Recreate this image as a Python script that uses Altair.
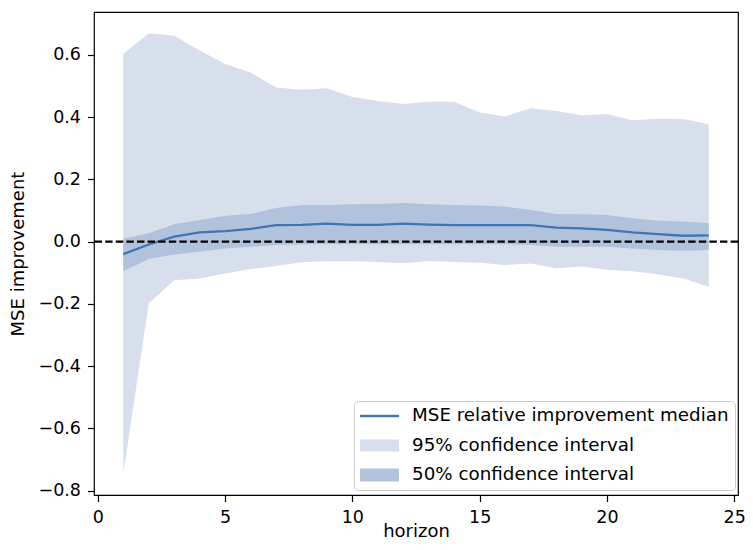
import altair as alt
import pandas as pd

horizon = list(range(1, 25))
median = [-0.040, -0.009, 0.016, 0.030, 0.034, 0.041, 0.053, 0.054, 0.058, 0.054, 0.054, 0.058,
          0.055, 0.053, 0.053, 0.053, 0.053, 0.045, 0.043, 0.038, 0.030, 0.024, 0.019, 0.020]
hi95 = [0.603, 0.670, 0.662, 0.614, 0.571, 0.544, 0.495, 0.488, 0.493, 0.465, 0.452, 0.442,
        0.450, 0.450, 0.415, 0.402, 0.429, 0.420, 0.406, 0.410, 0.390, 0.395, 0.394, 0.377]
lo95 = [-0.746, -0.199, -0.124, -0.118, -0.102, -0.088, -0.078, -0.066, -0.063, -0.063, -0.065, -0.069,
        -0.062, -0.065, -0.068, -0.075, -0.070, -0.085, -0.080, -0.090, -0.095, -0.105, -0.118, -0.145]
hi50 = [0.009, 0.027, 0.056, 0.070, 0.083, 0.089, 0.108, 0.118, 0.118, 0.120, 0.121, 0.124,
        0.120, 0.118, 0.116, 0.113, 0.102, 0.089, 0.088, 0.086, 0.075, 0.067, 0.065, 0.059]
lo50 = [-0.095, -0.056, -0.041, -0.032, -0.022, -0.016, -0.011, -0.008, -0.008, -0.008, -0.008, -0.008,
        -0.008, -0.008, -0.008, -0.008, -0.011, -0.016, -0.016, -0.016, -0.022, -0.027, -0.029, -0.027]

series_names = ["MSE relative improvement median", "95% confidence interval", "50% confidence interval"]
series_colors = ["#4174b2", "#d6dfeb", "#b1c2dc"]
symbol_paths = ["M-1,-0.06H1V0.06H-1Z", "M-1,-0.31H1V0.31H-1Z", "M-1,-0.33H1V0.33H-1Z"]

x_ticks = [0, 5, 10, 15, 20, 25]
y_ticks = [-0.8, -0.6, -0.4, -0.2, 0.0, 0.2, 0.4, 0.6]

df = pd.DataFrame({"horizon": horizon, "median": median, "hi95": hi95, "lo95": lo95,
                   "hi50": hi50, "lo50": lo50})
legend_df = pd.DataFrame({"series": series_names, "horizon": horizon[:3], "median": median[:3]})
zero_df = pd.DataFrame({"y": [0.0]})

font = "DejaVu Sans"
x_enc = alt.X("horizon:Q", title="horizon",
              scale=alt.Scale(domain=[-0.15, 25.15], nice=False, zero=False),
              axis=alt.Axis(values=x_ticks, format="d", titleY=41, titleBaseline="alphabetic"))
y_scale = alt.Scale(domain=[-0.814, 0.738], nice=False, zero=False)
y_axis = alt.Axis(values=y_ticks, format=".1f")

base = alt.Chart(df)
band95 = base.mark_area(color=series_colors[1]).encode(
    x=x_enc, y=alt.Y("lo95:Q", scale=y_scale, axis=y_axis, title="MSE improvement"), y2="hi95:Q")
band50 = base.mark_area(color=series_colors[2]).encode(
    x=x_enc, y=alt.Y("lo50:Q", scale=y_scale), y2="hi50:Q")
line = base.mark_line(color=series_colors[0], strokeWidth=2.3).encode(
    x=x_enc, y=alt.Y("median:Q", scale=y_scale))
rule = alt.Chart(zero_df).mark_rule(color="black", strokeDash=[7.4, 3.2], strokeWidth=2.2).encode(
    y=alt.Y("y:Q", scale=y_scale))
# legend only: rows filtered out, entries come from the fixed scale domain
legend_pts = alt.Chart(legend_df).mark_point(filled=True, opacity=1).encode(
    x=x_enc, y=alt.Y("median:Q", scale=y_scale),
    color=alt.Color("series:N", scale=alt.Scale(domain=series_names, range=series_colors),
                    legend=alt.Legend(title=None, orient="none", legendX=260, legendY=389,
                                      padding=6, clipHeight=18, rowPadding=10.5,
                                      symbolSize=1521, symbolStrokeWidth=0, symbolOpacity=1,
                                      labelOffset=13, labelLimit=500,
                                      labelFontSize=18.3, labelFont=font, labelColor="black",
                                      strokeColor="#cccccc", fillColor="white",
                                      cornerRadius=4)),
    shape=alt.Shape("series:N", scale=alt.Scale(domain=series_names, range=symbol_paths),
                    legend=alt.Legend(title=None, orient="none", legendX=260, legendY=389)),
).transform_filter("datum.median > 100")

chart = alt.layer(band95, band50, line, rule, legend_pts).properties(
    width=644, height=483,
    padding={"left": 86, "top": 4, "right": 7, "bottom": 46},
    autosize=alt.AutoSizeParams(type="none"),
).configure_view(
    stroke="black", strokeWidth=1.2
).configure_axis(
    domain=False, grid=False,
    tickColor="black", tickSize=6.5, tickWidth=1.2,
    labelFont=font, labelFontSize=17.5, labelColor="black", labelPadding=7,
    titleFont=font, titleFontSize=18, titleColor="black", titleFontWeight="normal",
).configure_axisY(titlePadding=11)

chart.save("out.html", embed_options={"renderer": "svg", "actions": False})
